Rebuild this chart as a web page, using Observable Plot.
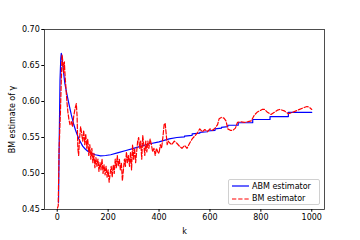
<!DOCTYPE html>
<html>
<head>
<meta charset="utf-8">
<script src="https://cdn.jsdelivr.net/npm/d3@7"></script>
<script src="https://cdn.jsdelivr.net/npm/@observablehq/plot@0.6"></script>
<style>
  html, body { margin: 0; padding: 0; background: #fff; }
  #wrap { position: relative; width: 360px; height: 240px; font-family: "DejaVu Sans", sans-serif; }
  #legend { position: absolute; left: 228px; top: 179px; width: 92px; height: 26px;
    border: 0.8px solid #d0d0d0; border-radius: 2px; background: rgba(255,255,255,0.85);
    font-size: 8px; color: #000; box-sizing: border-box; }
  .row { position: absolute; left: 3px; height: 10px; display: flex; align-items: center; }
  .row svg { margin-right: 3px; }
</style>
</head>
<body>
<div id="wrap"></div>
<script>
// ABM estimator (blue, solid)
const abmK = [5, 8, 11, 14, 16, 19, 25, 30, 37, 45, 55, 65, 72, 85, 100, 110, 120, 135, 150, 170, 190, 210, 240, 270, 300, 330, 360, 400, 440, 470,
  500, 500, 530, 530, 560, 560, 590, 590, 620, 620, 645, 645, 670, 670, 711, 711, 768, 768, 836, 836, 908, 908, 1000];
const abmV = [0.460, 0.550, 0.630, 0.660, 0.667, 0.660, 0.640, 0.625, 0.612, 0.598, 0.582, 0.568, 0.560, 0.548, 0.538, 0.534, 0.531, 0.528, 0.526, 0.5245, 0.525, 0.526, 0.529, 0.532, 0.535, 0.538, 0.541, 0.544, 0.548, 0.550,
  0.551, 0.552, 0.553, 0.555, 0.556, 0.557, 0.558, 0.559, 0.560, 0.562, 0.563, 0.564, 0.565, 0.567, 0.567, 0.5705, 0.5705, 0.575, 0.575, 0.579, 0.579, 0.585, 0.585];

// BM estimator (red, dashed)
const bmK = [1, 4, 7, 10, 13, 16, 19, 22, 25, 28, 31, 34, 38, 42, 46, 50, 55, 60, 65, 70, 75, 78, 81, 84, 88, 92, 96, 100,
  104, 108, 112, 116, 120, 124, 128, 132, 136, 140, 144, 148, 152, 156, 160, 164, 168, 172, 176, 180, 184, 188, 192, 196, 200,
  204, 208, 212, 216, 220, 224, 228, 232, 236, 240, 244, 248, 252, 256, 260, 264, 268, 272, 276, 280, 284, 288, 292, 296, 300,
  304, 308, 312, 316, 320, 324, 328, 332, 336, 340, 344, 348, 352, 356, 360, 365, 370, 375, 380, 385, 390, 395, 400,
  405, 410, 415, 420, 424, 428, 432, 436, 440, 450, 460, 470, 480, 490, 500, 510, 520, 530, 540, 550, 560, 570, 580, 590, 600,
  610, 620, 630, 636, 645, 655, 663, 670, 680, 690, 700, 708, 720, 735, 750, 762, 774, 785, 795, 805, 815, 826, 840, 853, 865,
  875, 892, 908, 925, 945, 965, 981, 990, 1000];
const bmV = [0.452, 0.455, 0.530, 0.560, 0.590, 0.630, 0.665, 0.655, 0.640, 0.655, 0.635, 0.620, 0.600, 0.585, 0.575, 0.568, 0.572, 0.565, 0.580, 0.590, 0.597, 0.580, 0.535, 0.525, 0.550, 0.565, 0.555, 0.545,
  0.560, 0.540, 0.555, 0.535, 0.548, 0.525, 0.540, 0.520, 0.535, 0.515, 0.528, 0.508, 0.522, 0.510, 0.520, 0.503, 0.515, 0.505, 0.520, 0.500, 0.512, 0.498, 0.510, 0.495, 0.505,
  0.488, 0.500, 0.510, 0.495, 0.512, 0.500, 0.520, 0.508, 0.525, 0.510, 0.520, 0.505, 0.515, 0.490, 0.505, 0.520, 0.510, 0.530, 0.515, 0.525, 0.510, 0.530, 0.505, 0.540, 0.520,
  0.535, 0.515, 0.530, 0.545, 0.550, 0.535, 0.545, 0.520, 0.553, 0.540, 0.525, 0.545, 0.530, 0.545, 0.535, 0.548, 0.540, 0.530, 0.535, 0.525, 0.535, 0.530, 0.528,
  0.540, 0.535, 0.550, 0.568, 0.570, 0.555, 0.540, 0.545, 0.543, 0.540, 0.545, 0.542, 0.538, 0.535, 0.539, 0.535, 0.542, 0.548, 0.552, 0.556, 0.562, 0.558, 0.561, 0.558, 0.562,
  0.560, 0.563, 0.568, 0.576, 0.578, 0.577, 0.573, 0.562, 0.560, 0.560, 0.563, 0.571, 0.572, 0.571, 0.572, 0.573, 0.581, 0.585, 0.587, 0.589, 0.589, 0.585, 0.582, 0.585, 0.588,
  0.589, 0.587, 0.583, 0.585, 0.588, 0.591, 0.593, 0.592, 0.589];

const xTicks = [0, 200, 400, 600, 800, 1000];
const yTicks = [0.45, 0.50, 0.55, 0.60, 0.65, 0.70];
const seriesNames = ["ABM estimator", "BM estimator"];
const xLabel = "k";
const yLabel = "BM estimate of γ";

const abm = abmK.map((k, i) => ({k, v: abmV[i]}));
const bm = bmK.map((k, i) => ({k, v: bmV[i]}));

const chart = Plot.plot({
  width: 360, height: 240,
  marginLeft: 44, marginRight: 36, marginTop: 29, marginBottom: 31,
  style: {fontFamily: "DejaVu Sans, sans-serif", fontSize: "8px", color: "#000", background: "#fff"},
  x: {domain: [-50, 1050]},
  y: {domain: [0.45, 0.70]},
  marks: [
    Plot.line(abm, {x: "k", y: "v", stroke: "#0000ff", strokeWidth: 1.2}),
    Plot.line(bm, {x: "k", y: "v", stroke: "#ff0000", strokeWidth: 1.2, strokeDasharray: "4.3,1.9"}),
    Plot.frame({stroke: "#222", strokeWidth: 0.8}),
    Plot.axisX({ticks: xTicks, tickSize: 2.7, tickPadding: 2, tickFormat: d => String(d),
      label: xLabel, labelAnchor: "center", labelArrow: "none", labelOffset: 24}),
    Plot.axisY({ticks: yTicks, tickSize: 2.7, tickPadding: 2, tickFormat: d => d.toFixed(2),
      label: yLabel, labelAnchor: "center", labelArrow: "none", labelOffset: 35})
  ]
});

const wrap = document.getElementById("wrap");
wrap.appendChild(chart);

const legend = document.createElement("div");
legend.id = "legend";
const styles = [{stroke: "#0000ff", dash: ""}, {stroke: "#ff0000", dash: "4.3,1.9"}];
seriesNames.forEach((name, i) => {
  const row = document.createElement("div");
  row.className = "row";
  row.style.top = (1 + i * 12.7) + "px";
  row.innerHTML = `<svg width="17" height="4"><line x1="0" x2="17" y1="2" y2="2" stroke="${styles[i].stroke}" stroke-width="1.2" stroke-dasharray="${styles[i].dash}"/></svg><span>${name}</span>`;
  legend.appendChild(row);
});
wrap.appendChild(legend);
</script>
</body>
</html>
